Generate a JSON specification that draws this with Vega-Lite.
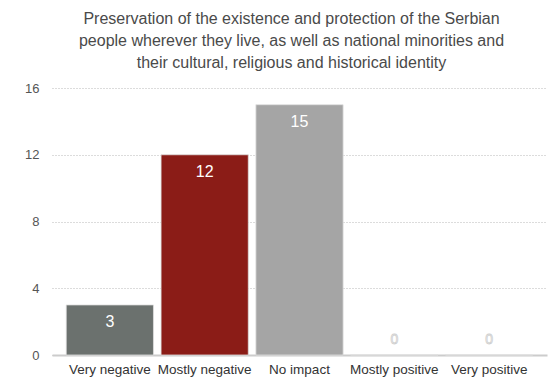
{
  "$schema": "https://vega.github.io/schema/vega-lite/v6.json",
  "width": 495,
  "height": 267,
  "autosize": {"type": "none"},
  "padding": {"left": 52, "top": 88, "right": 2, "bottom": 34},
  "background": "white",
  "config": {"view": {"stroke": null}},
  "title": {
    "text": ["Preservation of the existence and protection of the Serbian", "people wherever they live, as well as national minorities and", "their cultural, religious and historical identity"],
    "font": "Liberation Sans",
    "fontSize": 16,
    "fontWeight": "normal",
    "color": "#4a4a4a",
    "lineHeight": 22,
    "anchor": "middle",
    "offset": 11,
    "dx": -8
  },
  "data": {
    "values": [
      {"category": "Very negative", "count": 3},
      {"category": "Mostly negative", "count": 12},
      {"category": "No impact", "count": 15},
      {"category": "Mostly positive", "count": 0},
      {"category": "Very positive", "count": 0}
    ]
  },
  "encoding": {
    "x": {
      "field": "category",
      "type": "nominal",
      "sort": null,
      "scale": {"paddingInner": 0.08, "paddingOuter": 0.15},
      "axis": {
        "title": null,
        "labelAngle": 0,
        "ticks": false,
        "domain": true,
        "domainColor": "#cccccc",
        "domainWidth": 2,
        "labelFont": "Liberation Sans",
        "labelFontSize": 13.5,
        "labelColor": "#333333",
        "labelPadding": 7
      }
    },
    "y": {
      "field": "count",
      "type": "quantitative",
      "scale": {"domain": [0, 16]},
      "axis": {
        "title": null,
        "values": [0, 4, 8, 12, 16],
        "domain": false,
        "ticks": false,
        "grid": true,
        "gridColor": "#b8b8b8",
        "gridDash": [1, 2],
        "gridWidth": 1,
        "labelFont": "Liberation Sans",
        "labelFontSize": 13,
        "labelColor": "#555555",
        "labelPadding": 13
      }
    }
  },
  "layer": [
    {
      "mark": {"type": "bar", "stroke": "#e0e0e0", "strokeWidth": 0.8},
      "encoding": {
        "color": {
          "field": "category",
          "type": "nominal",
          "scale": {
            "domain": ["Very negative", "Mostly negative", "No impact", "Mostly positive", "Very positive"],
            "range": ["#6b716e", "#8b1c17", "#a5a5a5", "#d9d9d9", "#d9d9d9"]
          },
          "legend": null
        }
      }
    },
    {
      "transform": [{"filter": "datum.count > 0"}],
      "mark": {"type": "text", "baseline": "middle", "dy": 17, "font": "Liberation Sans", "fontSize": 16, "color": "white"},
      "encoding": {"text": {"field": "count", "type": "quantitative"}}
    },
    {
      "transform": [{"filter": "datum.count == 0"}],
      "mark": {"type": "text", "baseline": "middle", "dy": -15, "font": "Liberation Sans", "fontSize": 14, "color": "white", "stroke": "#cfcfcf", "strokeWidth": 0.8},
      "encoding": {"text": {"field": "count", "type": "quantitative"}}
    }
  ]
}
